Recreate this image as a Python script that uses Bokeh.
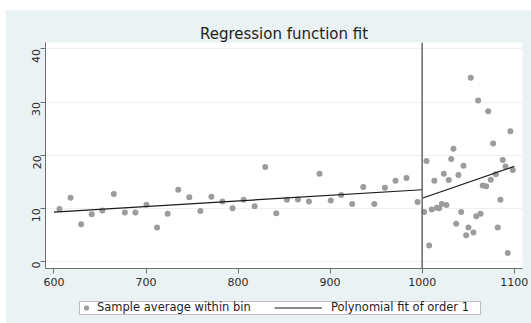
from math import pi
from bokeh.plotting import figure
from bokeh.layouts import column
from bokeh.models import (Range1d, FixedTicker, Span, Legend, LegendItem,
                          BoxAnnotation)
from bokeh.embed import file_html
from bokeh.resources import INLINE

# ---- data ----
left_bin_x = [606, 618, 629.5, 641, 652.5, 665, 677, 688.5, 700.5, 712, 723.5,
              735, 747, 759, 771, 783, 794, 806, 818, 829.5, 841.5, 853, 865,
              877, 888.5, 900.7, 912, 924, 936, 948, 959.5, 971, 983, 995]
left_bin_y = [9.9, 12.0, 7.0, 8.9, 9.6, 12.7, 9.2, 9.2, 10.7, 6.4, 9.0,
              13.5, 12.1, 9.5, 12.2, 11.3, 10.0, 11.6, 10.4, 17.8, 9.1, 11.6, 11.65,
              11.3, 16.5, 11.5, 12.5, 10.8, 14.0, 10.8, 13.9, 15.2, 15.7, 11.2]

right_bin_x = [1002.2, 1004.7, 1007.6, 1010.4, 1013.2, 1015.9, 1018.5, 1021.3,
               1023.5, 1026.4, 1028.9, 1031.5, 1034.0, 1036.9, 1039.4, 1042.4,
               1044.9, 1047.8, 1050.3, 1052.8, 1055.7, 1058.7, 1060.8, 1063.4,
               1065.8, 1069.5, 1071.7, 1074.5, 1077.1, 1080.0, 1082.1, 1085.0,
               1087.6, 1090.5, 1093.0, 1095.9, 1098.4]
right_bin_y = [9.3, 18.9, 3.0, 9.8, 15.2, 10.1, 10.0, 10.8,
               16.5, 10.65, 15.35, 19.3, 21.2, 7.1, 16.3, 9.3,
               18.0, 4.95, 6.4, 34.6, 5.45, 8.5, 30.3, 9.0,
               14.3, 14.15, 28.3, 15.4, 22.2, 16.4, 6.4, 11.6,
               19.1, 17.9, 1.6, 24.5, 17.2]

fit_left_x = [600, 1000]
fit_left_y = [9.3, 13.5]
fit_right_x = [1000, 1100]
fit_right_y = [11.9, 17.9]

cutoff = 1000
x_ticks = [600, 700, 800, 900, 1000, 1100]
y_ticks = [0, 10, 20, 30, 40]

title_text = "Regression function fit"
legend_labels = ["Sample average within bin", "Polynomial fit of order 1"]

# ---- styling ----
BG = "#EAF2F3"
FONT = "DejaVu Sans"
AX = "#6e6e6e"
PT = "#9c9c9c"
LN = "#1a1a1a"


def bg_styles(top):
    return {
        "background-color": "white",
        "background-image": f"linear-gradient({BG}, {BG})",
        "background-position": f"6px {top}px",
        "background-size": "100% 100%",
        "background-repeat": "no-repeat",
    }


# ---------------- main chart ----------------
p = figure(width=531, height=290, output_backend="svg", toolbar_location=None,
           x_range=Range1d(590.8, 1109.0), y_range=Range1d(-1.32, 41.22),
           min_border_left=45, min_border_right=9, min_border_top=42,
           min_border_bottom=22)
p.border_fill_alpha = 0
p.styles = bg_styles(10)
p.background_fill_color = "white"
p.outline_line_color = None

p.title.text = title_text
p.title.align = "center"
p.title.text_font = FONT
p.title.text_font_size = "15px"
p.title.text_font_style = "normal"
p.title.text_color = "#1e1e1e"
p.title.standoff = 0

p.xgrid.visible = False
p.ygrid.ticker = FixedTicker(ticks=y_ticks)
p.ygrid.grid_line_color = BG
p.ygrid.grid_line_width = 1

for ax in (p.xaxis, p.yaxis):
    ax.axis_line_color = AX
    ax.major_tick_line_color = AX
    ax.minor_tick_line_color = None
    ax.major_tick_out = 5
    ax.major_tick_in = 0
    ax.major_label_text_font = FONT
    ax.major_label_text_font_size = "11px"
    ax.major_label_text_color = "#2a2a2a"
    ax.major_label_standoff = 4

p.xaxis.ticker = FixedTicker(ticks=x_ticks)
p.yaxis.ticker = FixedTicker(ticks=y_ticks)
p.yaxis.major_label_orientation = pi / 2

p.add_layout(Span(location=cutoff, dimension="height", line_color="#666666",
                  line_width=1.5))

p.scatter(left_bin_x, left_bin_y, size=6, color=PT, line_color=None)
p.scatter(right_bin_x, right_bin_y, size=6, color=PT, line_color=None)
p.line(fit_left_x, fit_left_y, line_color=LN, line_width=1.2)
p.line(fit_right_x, fit_right_y, line_color=LN, line_width=1.2)

# ---------------- legend strip ----------------
q = figure(width=531, height=33, output_backend="svg", toolbar_location=None,
           x_range=Range1d(0, 1), y_range=Range1d(0, 1),
           min_border_left=0, min_border_right=0, min_border_top=0,
           min_border_bottom=0, x_axis_location=None, y_axis_location=None)
q.grid.visible = False
q.outline_line_color = None
q.border_fill_alpha = 0
q.background_fill_alpha = 0
q.styles = bg_styles(0)

# key renderers (same data, outside this strip's ranges, so only the keys show)
key_pts = q.scatter(left_bin_x, left_bin_y, size=6, color=PT, line_color=None)
key_ln = q.line(fit_left_x, fit_left_y, line_color=LN, line_width=1.2)

q.add_layout(BoxAnnotation(left=79, right=480, top=11, bottom=24,
                           left_units="canvas", right_units="canvas",
                           top_units="canvas", bottom_units="canvas",
                           fill_color="white", fill_alpha=1.0,
                           line_color="#3a3a3a", line_width=1))


def key_legend(item, x, gw, standoff):
    return Legend(items=[item], location=(x, 9), orientation="horizontal",
                  glyph_width=gw, glyph_height=13, label_height=13,
                  label_standoff=standoff, padding=0, margin=0, spacing=0,
                  border_line_color=None, background_fill_alpha=0,
                  label_text_font=FONT, label_text_font_size="11.5px",
                  label_text_color="#1e1e1e")


# the strip's frame is aligned with the chart's frame (left edge at 45 px)
q.add_layout(key_legend(LegendItem(label=legend_labels[0], renderers=[key_pts]), 34, 14, 4))
q.add_layout(key_legend(LegendItem(label=legend_labels[1], renderers=[key_ln]), 229, 48, 9))

layout = column(p, q, spacing=0)
open("out.html", "w").write(file_html(layout, INLINE))
